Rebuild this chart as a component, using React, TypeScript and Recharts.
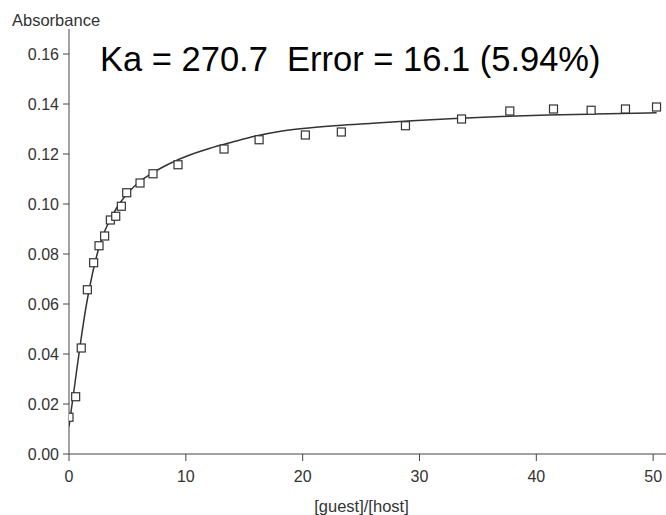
import React from 'react';
import { ScatterChart, Scatter, XAxis, YAxis } from 'recharts';

// Titration measurements: guest/host ratio vs absorbance
const guestRatio = [0, 0.57, 1.05, 1.57, 2.11, 2.57, 3.05, 3.54, 4.0, 4.48, 4.94, 6.08, 7.19, 9.33, 13.27, 16.27, 20.23, 23.31, 28.8, 33.6, 37.73, 41.47, 44.69, 47.63, 50.29];
const absorbance = [0.0147, 0.0229, 0.0424, 0.0657, 0.0765, 0.0833, 0.0872, 0.0936, 0.0951, 0.0991, 0.1045, 0.1084, 0.1121, 0.1157, 0.122, 0.1257, 0.1276, 0.1288, 0.1313, 0.134, 0.1372, 0.138, 0.1375, 0.138, 0.1388];

// Fitted binding isotherm, sampled along the ratio axis
const fitRatio = [0, 0.5, 1, 1.5, 2, 2.5, 3, 3.5, 4, 4.5, 5, 6, 7, 8, 9, 10, 12, 14, 16, 18, 20, 23, 26, 29, 33, 37, 41, 45, 50.3];
const fitAbsorbance = [0.011, 0.028, 0.045, 0.06, 0.072, 0.0815, 0.0885, 0.0935, 0.0978, 0.1013, 0.1042, 0.1088, 0.112, 0.1147, 0.117, 0.119, 0.1222, 0.1248, 0.1272, 0.129, 0.1302, 0.1314, 0.1323, 0.1332, 0.1342, 0.135, 0.1356, 0.136, 0.1365];

const xTicks = [0, 10, 20, 30, 40, 50];
const yTicks = [0, 0.02, 0.04, 0.06, 0.08, 0.1, 0.12, 0.14, 0.16];

const titleText = 'Ka = 270.7  Error = 16.1 (5.94%)';
const yLabel = 'Absorbance';
const xLabel = '[guest]/[host]';

const measured = guestRatio.map((x, i) => ({ x, y: absorbance[i] }));
const fitted = fitRatio.map((x, i) => ({ x, y: fitAbsorbance[i] }));

const FONT = '"Liberation Sans", Arial, Helvetica, sans-serif';
const AXIS = '#444';
const TEXT = '#333';

const OpenSquare = (props: any) => {
  const { cx, cy } = props;
  if (cx == null || cy == null) return null;
  const s = 8;
  return (
    <rect x={cx - s / 2} y={cy - s / 2} width={s} height={s} fill="#fff" stroke="#333" strokeWidth={1.2} />
  );
};

const NoDot = () => null;

export default function App() {
  return (
    <div style={{ position: 'absolute', left: 0, top: 0, width: 666, height: 515, background: '#fff' }}>
      <ScatterChart
        width={666}
        height={515}
        margin={{ top: 29, right: 0, left: 9, bottom: 31 }}
      >
        <XAxis
          type="number"
          dataKey="x"
          domain={[0, 51.1]}
          ticks={xTicks}
          allowDataOverflow
          height={30}
          stroke={AXIS}
          tickSize={7}
          tickMargin={10}
          tick={{ fill: TEXT, fontSize: 16, fontFamily: FONT }}
          label={{ value: xLabel, position: 'bottom', offset: 0, dx: -6, dy: 16, fill: TEXT, fontSize: 16.5, fontFamily: FONT }}
        />
        <YAxis
          type="number"
          dataKey="y"
          domain={[0, 0.17]}
          ticks={yTicks}
          allowDataOverflow
          width={60}
          stroke={AXIS}
          tickSize={6}
          tickMargin={4}
          tickFormatter={(v: number) => v.toFixed(2)}
          tick={{ fill: TEXT, fontSize: 16, fontFamily: FONT }}
        />
        <Scatter
          data={fitted}
          line={{ stroke: '#333', strokeWidth: 1.5 }}
          lineType="joint"
          lineJointType="monotoneX"
          shape={NoDot}
          isAnimationActive={false}
        />
        <Scatter data={measured} shape={OpenSquare} isAnimationActive={false} />
      </ScatterChart>
      <svg
        width={666}
        height={515}
        style={{ position: 'absolute', left: 0, top: 0, pointerEvents: 'none' }}
      >
        <text x={12} y={26} fill={TEXT} fontSize={16.5} fontFamily={FONT}>
          {yLabel}
        </text>
        <text x={100} y={71} fill="#000" fontSize={34.5} fontFamily={FONT} style={{ whiteSpace: 'pre' }}>
          {titleText}
        </text>
      </svg>
    </div>
  );
}
